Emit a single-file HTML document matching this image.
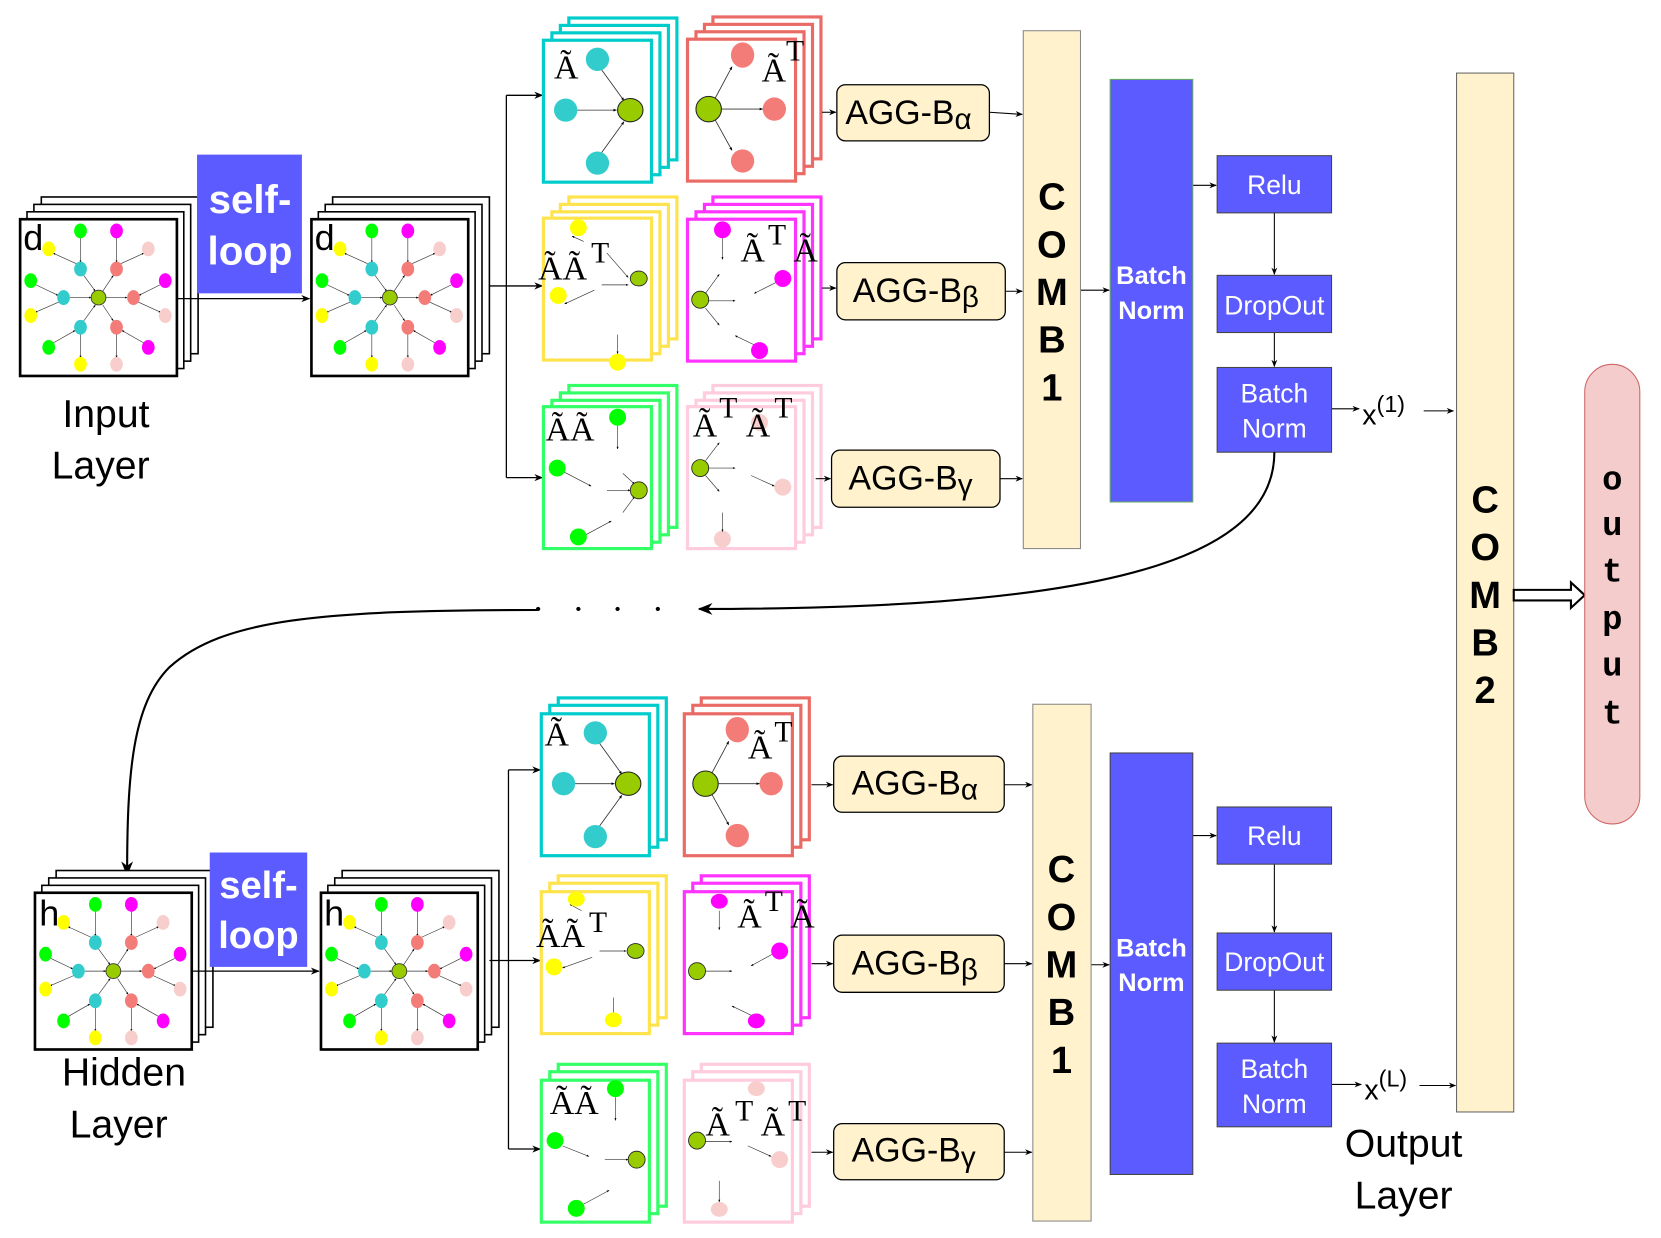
<!DOCTYPE html>
<html><head><meta charset="utf-8"><style>
html,body{margin:0;padding:0;background:#fff;}
svg{display:block;}
.s{font-family:"Liberation Sans",sans-serif;}
.sr{font-family:"Liberation Serif",serif;}
</style></head><body>
<svg width="1661" height="1238" viewBox="0 0 1568 1169" preserveAspectRatio="none" xmlns="http://www.w3.org/2000/svg">
<defs>
<marker id="ar" viewBox="0 0 10 10" refX="9" refY="5" markerWidth="7" markerHeight="7" orient="auto"><path d="M0,1 L10,5 L0,9 L3,5z" fill="#000"/></marker>
<marker id="as" viewBox="0 0 10 10" refX="9" refY="5" markerWidth="4" markerHeight="4" orient="auto"><path d="M0,1 L10,5 L0,9z" fill="#000"/></marker>
<g id="star">
<g stroke="#333" stroke-width="0.6" marker-end="url(#as)">
<line x1="57" y1="16" x2="57" y2="40"/><line x1="91" y1="16" x2="91" y2="40"/>
<line x1="53" y1="41" x2="31" y2="31"/><line x1="95" y1="41" x2="117" y2="31"/>
<line x1="15" y1="61" x2="36" y2="71"/><line x1="37" y1="77" x2="14" y2="87"/>
<line x1="132" y1="61" x2="112" y2="71"/><line x1="111" y1="77" x2="133" y2="87"/>
<line x1="31" y1="116" x2="52" y2="104"/><line x1="57" y1="107" x2="57" y2="130"/>
<line x1="117" y1="116" x2="96" y2="104"/><line x1="91" y1="107" x2="91" y2="130"/>
<line x1="60" y1="52" x2="71" y2="67"/><line x1="78" y1="67" x2="88" y2="52"/>
<line x1="47" y1="73" x2="67" y2="73"/><line x1="81" y1="73" x2="101" y2="73"/>
<line x1="60" y1="95" x2="71" y2="80"/><line x1="78" y1="80" x2="88" y2="95"/>
</g>
<ellipse cx="74" cy="73" rx="7" ry="7" fill="#99cc00" stroke="#333" stroke-width="0.8"/>
<g fill="#33cccc"><ellipse cx="57" cy="46" rx="6" ry="7"/><ellipse cx="41" cy="73" rx="6" ry="7"/><ellipse cx="57" cy="101" rx="6" ry="7"/></g>
<g fill="#f47c78"><ellipse cx="91" cy="46" rx="6" ry="7"/><ellipse cx="107" cy="73" rx="6" ry="7"/><ellipse cx="91" cy="101" rx="6" ry="7"/></g>
<g fill="#00ff00"><ellipse cx="57" cy="10" rx="6" ry="7"/><ellipse cx="10" cy="57" rx="6" ry="7"/><ellipse cx="27" cy="120" rx="6" ry="7"/></g>
<g fill="#ff00ff"><ellipse cx="91" cy="10" rx="6" ry="7"/><ellipse cx="137" cy="57" rx="6" ry="7"/><ellipse cx="121" cy="120" rx="6" ry="7"/></g>
<g fill="#ffff00"><ellipse cx="27" cy="27" rx="6" ry="7"/><ellipse cx="10" cy="90" rx="6" ry="7"/><ellipse cx="57" cy="136" rx="6" ry="7"/></g>
<g fill="#f8cecc"><ellipse cx="121" cy="27" rx="6" ry="7"/><ellipse cx="137" cy="90" rx="6" ry="7"/><ellipse cx="91" cy="136" rx="6" ry="7"/></g>
</g>
<g id="bigstack">
<rect x="20" y="-21" width="148" height="148" fill="#fff" stroke="#000" stroke-width="1.5"/>
<rect x="13" y="-14" width="148" height="148" fill="#fff" stroke="#000" stroke-width="1.5"/>
<rect x="6.5" y="-7" width="148" height="148" fill="#fff" stroke="#000" stroke-width="1.5"/>
<rect x="0" y="0" width="148" height="148" fill="#fff" stroke="#000" stroke-width="2.5"/>
<use href="#star" x="0" y="1"/>
</g>
</defs>

<use href="#bigstack" x="19" y="207"/>
<text x="22" y="236" class="s" font-size="34">d</text>
<rect x="186" y="146" width="99" height="131" fill="#5b5bff"/>
<text x="236" y="201" class="s" font-size="38" font-weight="bold" fill="#fff" text-anchor="middle">self-</text>
<text x="236" y="250" class="s" font-size="38" font-weight="bold" fill="#fff" text-anchor="middle">loop</text>
<line x1="168" y1="282" x2="292" y2="282" stroke="#000" stroke-width="1.2" marker-end="url(#ar)"/>
<use href="#bigstack" x="294" y="207"/>
<text x="297" y="236" class="s" font-size="34">d</text>
<text x="100" y="403" class="s" font-size="37" text-anchor="middle">Input</text>
<text x="95" y="452" class="s" font-size="37" text-anchor="middle">Layer</text>

<g stroke="#000" stroke-width="1.2" fill="none">
<line x1="462" y1="270" x2="478" y2="270"/>
<line x1="478" y1="90" x2="478" y2="451"/>
<line x1="478" y1="90" x2="512" y2="90" marker-end="url(#ar)"/>
<line x1="478" y1="270" x2="512" y2="270" marker-end="url(#ar)"/>
<line x1="478" y1="451" x2="512" y2="451" marker-end="url(#ar)"/>
</g>

<g stroke-width="3" fill="#fff">
<g stroke="#00cccc"><rect x="537" y="17" width="102" height="134"/><rect x="529" y="24" width="102" height="134"/><rect x="521" y="31" width="102" height="134"/><rect x="513" y="38" width="102" height="134"/></g>
<g stroke="#ea6b66"><rect x="673" y="16" width="102" height="134"/><rect x="665" y="23" width="102" height="134"/><rect x="657" y="30" width="102" height="134"/><rect x="649" y="37" width="102" height="134"/></g>
<g stroke="#ffe34d"><rect x="537" y="186" width="102" height="134"/><rect x="529" y="193" width="102" height="134"/><rect x="521" y="200" width="102" height="134"/><rect x="513" y="206" width="102" height="134"/></g>
<g stroke="#ff33ff"><rect x="673" y="186" width="102" height="134"/><rect x="665" y="193" width="102" height="134"/><rect x="657" y="200" width="102" height="134"/><rect x="649" y="207" width="102" height="134"/></g>
<g stroke="#33ff66"><rect x="537" y="364" width="102" height="134"/><rect x="529" y="371" width="102" height="134"/><rect x="521" y="378" width="102" height="134"/><rect x="513" y="384" width="102" height="134"/></g>
<g stroke="#ffccdd"><rect x="673" y="364" width="102" height="134"/><rect x="665" y="371" width="102" height="134"/><rect x="657" y="378" width="102" height="134"/><rect x="649" y="384" width="102" height="134"/></g>
</g>

<g transform="translate(513,38)">
<text x="10" y="36" class="sr" font-size="32">Ã</text>
<g stroke="#333" stroke-width="0.8" marker-end="url(#as)"><line x1="55" y1="28" x2="76" y2="57"/><line x1="31" y1="66" x2="69" y2="66"/><line x1="55" y1="106" x2="76" y2="77"/></g>
<g fill="#33cccc"><ellipse cx="51" cy="18" rx="11" ry="11"/><ellipse cx="21" cy="66" rx="11" ry="11"/><ellipse cx="51" cy="116" rx="11" ry="11"/></g>
<ellipse cx="82" cy="66" rx="12" ry="11" fill="#99cc00" stroke="#222"/>
</g>
<g transform="translate(649,37)">
<g stroke="#333" stroke-width="0.8" marker-end="url(#as)"><line x1="26" y1="56" x2="42" y2="26"/><line x1="32" y1="66" x2="71" y2="66"/><line x1="26" y1="76" x2="42" y2="105"/></g>
<ellipse cx="20" cy="66" rx="12" ry="12" fill="#99cc00" stroke="#222"/>
<g fill="#f47c78"><ellipse cx="52" cy="15" rx="11" ry="12"/><ellipse cx="82" cy="66" rx="11" ry="11"/><ellipse cx="52" cy="115" rx="11" ry="11"/></g>
<text x="70" y="40" class="sr" font-size="32">Ã</text><text x="93" y="20" class="sr" font-size="28">T</text>
</g>
<g transform="translate(513,206)">
<text x="-5" y="58" class="sr" font-size="32">ÃÃ</text><text x="45" y="42" class="sr" font-size="28">T</text>
<g stroke="#333" stroke-width="0.6" marker-end="url(#as)"><line x1="55" y1="63" x2="80" y2="63"/><line x1="48" y1="68" x2="20" y2="81"/><line x1="60" y1="33" x2="80" y2="56"/><line x1="70" y1="110" x2="70" y2="128"/><line x1="38" y1="22" x2="27" y2="17"/></g>
<g fill="#ffff00"><ellipse cx="33" cy="9" rx="8" ry="8"/><ellipse cx="14" cy="73" rx="8" ry="8"/><ellipse cx="70" cy="136" rx="8" ry="8"/></g>
<ellipse cx="90" cy="57" rx="8" ry="7" fill="#99cc00" stroke="#222" stroke-width="0.8"/>
</g>
<g transform="translate(649,207)">
<text x="50" y="40" class="sr" font-size="32">Ã</text><text x="76" y="24" class="sr" font-size="28">T</text><text x="100" y="40" class="sr" font-size="32">Ã</text>
<g stroke="#333" stroke-width="0.6" marker-end="url(#as)"><line x1="20" y1="77" x2="45" y2="77"/><line x1="17" y1="70" x2="30" y2="52"/><line x1="17" y1="84" x2="30" y2="100"/><line x1="33" y1="18" x2="33" y2="38"/><line x1="85" y1="59" x2="63" y2="70"/><line x1="68" y1="121" x2="45" y2="110"/></g>
<g fill="#ff00ff"><ellipse cx="33" cy="10" rx="8" ry="8"/><ellipse cx="90" cy="56" rx="8" ry="8"/><ellipse cx="68" cy="124" rx="8" ry="8"/></g>
<ellipse cx="12" cy="76" rx="8" ry="8" fill="#99cc00" stroke="#222" stroke-width="0.8"/>
</g>
<g transform="translate(513,384)">
<text x="2" y="32" class="sr" font-size="32">ÃÃ</text>
<g stroke="#333" stroke-width="0.6" marker-end="url(#as)"><line x1="70" y1="18" x2="70" y2="40"/><line x1="20" y1="62" x2="45" y2="75"/><line x1="60" y1="79" x2="82" y2="79"/><line x1="40" y1="121" x2="64" y2="108"/><line x1="75" y1="63" x2="86" y2="73"/><line x1="75" y1="100" x2="86" y2="85"/></g>
<g fill="#00ff00"><ellipse cx="70" cy="10" rx="8" ry="8"/><ellipse cx="13" cy="58" rx="8" ry="8"/><ellipse cx="33" cy="123" rx="8" ry="8"/></g>
<ellipse cx="90" cy="79" rx="8" ry="8" fill="#99cc00" stroke="#222" stroke-width="0.8"/>
</g>
<g transform="translate(649,384)">
<g fill="#f8cecc"><ellipse cx="68" cy="15" rx="8" ry="8"/><ellipse cx="90" cy="76" rx="8" ry="8"/><ellipse cx="33" cy="125" rx="8" ry="8"/></g>
<text x="5" y="28" class="sr" font-size="32">Ã</text><text x="30" y="10" class="sr" font-size="28">T</text><text x="55" y="28" class="sr" font-size="32">Ã</text><text x="82" y="10" class="sr" font-size="28">T</text>
<g stroke="#333" stroke-width="0.6" marker-end="url(#as)"><line x1="20" y1="58" x2="45" y2="58"/><line x1="17" y1="51" x2="30" y2="34"/><line x1="17" y1="65" x2="30" y2="80"/><line x1="60" y1="65" x2="82" y2="75"/><line x1="33" y1="100" x2="33" y2="118"/></g>
<ellipse cx="12" cy="58" rx="8" ry="8" fill="#99cc00" stroke="#222" stroke-width="0.8"/>
</g>

<g stroke="#000" stroke-width="1" marker-end="url(#ar)">
<line x1="776" y1="106" x2="789" y2="106"/><line x1="776" y1="272" x2="789" y2="272"/><line x1="770" y1="452" x2="784" y2="452"/>
<line x1="934" y1="106" x2="965" y2="108"/><line x1="949" y1="275" x2="965" y2="275"/><line x1="944" y1="452" x2="965" y2="452"/>
<line x1="1020" y1="274" x2="1047" y2="274"/><line x1="1126" y1="175" x2="1148" y2="175"/>
<line x1="1203" y1="201" x2="1203" y2="259"/><line x1="1203" y1="314" x2="1203" y2="346"/>
<line x1="1257" y1="386" x2="1283" y2="386"/><line x1="1344" y1="388" x2="1372" y2="388"/>
</g>
<g stroke="#000" stroke-width="1.2" fill="#fff2cc">
<rect x="790" y="80" width="144" height="53" rx="8"/>
<rect x="790" y="248" width="159" height="54" rx="8"/>
<rect x="785" y="425" width="159" height="54" rx="8"/>
</g>
<g class="s" font-size="32">
<text x="798" y="117">AGG-B<tspan font-size="28" dy="5">α</tspan></text>
<text x="805" y="285">AGG-B<tspan font-size="28" dy="5">β</tspan></text>
<text x="801" y="462">AGG-B<tspan font-size="28" dy="5">γ</tspan></text>
</g>
<rect x="966" y="29" width="54" height="489" fill="#fff2cc" stroke="#888"/>
<g class="s" font-size="36" font-weight="bold" text-anchor="middle">
<text x="993" y="198">C</text><text x="993" y="243">O</text><text x="993" y="288">M</text><text x="993" y="333">B</text><text x="993" y="378">1</text>
</g>
<rect x="1048" y="75" width="78" height="399" fill="#5b5bff" stroke="#6a6"/>
<text x="1087" y="268" class="s" font-size="24" font-weight="bold" fill="#fff" text-anchor="middle">Batch</text>
<text x="1087" y="301" class="s" font-size="24" font-weight="bold" fill="#fff" text-anchor="middle">Norm</text>
<g fill="#5b5bff" stroke="#444">
<rect x="1149" y="147" width="108" height="54"/><rect x="1149" y="260" width="108" height="54"/><rect x="1149" y="347" width="108" height="80"/>
</g>
<g class="s" font-size="25" fill="#fff" text-anchor="middle">
<text x="1203" y="183">Relu</text><text x="1203" y="297">DropOut</text><text x="1203" y="380">Batch</text><text x="1203" y="413">Norm</text>
</g>
<text x="1286" y="401" class="s" font-size="27">x<tspan font-size="22" dy="-12">(1)</tspan></text>

<rect x="1375" y="69" width="54" height="981" fill="#fff2cc" stroke="#666"/>
<g class="s" font-size="36" font-weight="bold" text-anchor="middle">
<text x="1402" y="484">C</text><text x="1402" y="529">O</text><text x="1402" y="574">M</text><text x="1402" y="619">B</text><text x="1402" y="664">2</text>
</g>
<path d="M1429,557 L1483,557 L1483,550 L1496,562 L1483,574 L1483,567 L1429,567z" fill="#fff" stroke="#000" stroke-width="2"/>
<rect x="1496" y="344" width="52" height="434" rx="26" fill="#f4cccc" stroke="#d06666"/>
<g font-family="'Liberation Mono',monospace" font-size="32" font-weight="bold" text-anchor="middle">
<text x="1522" y="462">o</text><text x="1522" y="505">u</text><text x="1522" y="549">t</text><text x="1522" y="594">p</text><text x="1522" y="638">u</text><text x="1522" y="683">t</text>
</g>

<path d="M1203,427 C1203,540 1000,575 660,575" fill="none" stroke="#000" stroke-width="2" marker-end="url(#ar)"/>
<g fill="#000"><circle cx="508" cy="575" r="2"/><circle cx="546" cy="575" r="2"/><circle cx="583" cy="575" r="2"/><circle cx="621" cy="575" r="2"/></g>
<path d="M507,576 C300,576 210,585 160,630 C125,665 120,730 120,826" fill="none" stroke="#000" stroke-width="2" marker-end="url(#ar)"/>

<use href="#bigstack" x="33" y="843"/>
<text x="37" y="874" class="s" font-size="34">h</text>
<rect x="198" y="805" width="92" height="108" fill="#5b5bff"/>
<text x="244" y="848" class="s" font-size="36" font-weight="bold" fill="#fff" text-anchor="middle">self-</text>
<text x="244" y="895" class="s" font-size="36" font-weight="bold" fill="#fff" text-anchor="middle">loop</text>
<line x1="181" y1="917" x2="301" y2="917" stroke="#000" stroke-width="1.2" marker-end="url(#ar)"/>
<use href="#bigstack" x="303" y="843"/>
<text x="306" y="874" class="s" font-size="34">h</text>
<text x="117" y="1025" class="s" font-size="37" text-anchor="middle">Hidden</text>
<text x="112" y="1074" class="s" font-size="37" text-anchor="middle">Layer</text>

<g stroke="#000" stroke-width="1.2" fill="none">
<line x1="462" y1="907" x2="480" y2="907"/>
<line x1="480" y1="727" x2="480" y2="1085"/>
<line x1="480" y1="727" x2="510" y2="727" marker-end="url(#ar)"/>
<line x1="480" y1="907" x2="510" y2="907" marker-end="url(#ar)"/>
<line x1="480" y1="1085" x2="510" y2="1085" marker-end="url(#ar)"/>
</g>
<g stroke-width="3" fill="#fff">
<g stroke="#00cccc"><rect x="527" y="659" width="102" height="134"/><rect x="519" y="666" width="102" height="134"/><rect x="511" y="674" width="102" height="134"/></g>
<g stroke="#ea6b66"><rect x="662" y="659" width="102" height="134"/><rect x="654" y="666" width="102" height="134"/><rect x="646" y="674" width="102" height="134"/></g>
<g stroke="#ffe34d"><rect x="527" y="827" width="102" height="134"/><rect x="519" y="834" width="102" height="134"/><rect x="511" y="842" width="102" height="134"/></g>
<g stroke="#ff33ff"><rect x="662" y="827" width="102" height="134"/><rect x="654" y="834" width="102" height="134"/><rect x="646" y="842" width="102" height="134"/></g>
<g stroke="#33ff66"><rect x="527" y="1005" width="102" height="134"/><rect x="519" y="1012" width="102" height="134"/><rect x="511" y="1020" width="102" height="134"/></g>
<g stroke="#ffccdd"><rect x="662" y="1005" width="102" height="134"/><rect x="654" y="1012" width="102" height="134"/><rect x="646" y="1020" width="102" height="134"/></g>
</g>
<g transform="translate(511,674)">
<text x="3" y="30" class="sr" font-size="32">Ã</text>
<g stroke="#333" stroke-width="0.8" marker-end="url(#as)"><line x1="55" y1="28" x2="76" y2="57"/><line x1="31" y1="66" x2="69" y2="66"/><line x1="55" y1="106" x2="76" y2="77"/></g>
<g fill="#33cccc"><ellipse cx="51" cy="18" rx="11" ry="11"/><ellipse cx="21" cy="66" rx="11" ry="11"/><ellipse cx="51" cy="116" rx="11" ry="11"/></g>
<ellipse cx="82" cy="66" rx="12" ry="11" fill="#99cc00" stroke="#222"/>
</g>
<g transform="translate(646,674)">
<g stroke="#333" stroke-width="0.8" marker-end="url(#as)"><line x1="26" y1="56" x2="42" y2="26"/><line x1="32" y1="66" x2="71" y2="66"/><line x1="26" y1="76" x2="42" y2="105"/></g>
<ellipse cx="20" cy="66" rx="12" ry="12" fill="#99cc00" stroke="#222"/>
<g fill="#f47c78"><ellipse cx="50" cy="15" rx="11" ry="12"/><ellipse cx="82" cy="66" rx="11" ry="11"/><ellipse cx="50" cy="115" rx="11" ry="11"/></g>
<text x="60" y="42" class="sr" font-size="32">Ã</text><text x="85" y="26" class="sr" font-size="28">T</text>
</g>
<g transform="translate(511,842)">
<text x="-5" y="52" class="sr" font-size="32">ÃÃ</text><text x="45" y="38" class="sr" font-size="28">T</text>
<g stroke="#333" stroke-width="0.6" marker-end="url(#as)"><line x1="55" y1="56" x2="80" y2="56"/><line x1="48" y1="62" x2="20" y2="72"/><line x1="68" y1="100" x2="68" y2="118"/><line x1="38" y1="18" x2="27" y2="12"/></g>
<g fill="#ffff00"><ellipse cx="33" cy="7" rx="8" ry="7"/><ellipse cx="12" cy="71" rx="8" ry="8"/><ellipse cx="68" cy="121" rx="8" ry="7"/></g>
<ellipse cx="89" cy="56" rx="8" ry="7" fill="#99cc00" stroke="#222" stroke-width="0.8"/>
</g>
<g transform="translate(646,842)">
<text x="50" y="34" class="sr" font-size="32">Ã</text><text x="76" y="18" class="sr" font-size="28">T</text><text x="100" y="34" class="sr" font-size="32">Ã</text>
<g stroke="#333" stroke-width="0.6" marker-end="url(#as)"><line x1="20" y1="75" x2="45" y2="75"/><line x1="33" y1="18" x2="33" y2="36"/><line x1="85" y1="58" x2="63" y2="70"/><line x1="68" y1="119" x2="45" y2="108"/></g>
<g fill="#ff00ff"><ellipse cx="33" cy="9" rx="8" ry="7"/><ellipse cx="90" cy="56" rx="8" ry="8"/><ellipse cx="68" cy="122" rx="8" ry="7"/></g>
<ellipse cx="12" cy="75" rx="8" ry="8" fill="#99cc00" stroke="#222" stroke-width="0.8"/>
</g>
<g transform="translate(511,1020)">
<text x="8" y="32" class="sr" font-size="32">ÃÃ</text>
<g stroke="#333" stroke-width="0.6" marker-end="url(#as)"><line x1="70" y1="16" x2="70" y2="38"/><line x1="20" y1="62" x2="45" y2="72"/><line x1="60" y1="75" x2="82" y2="75"/><line x1="40" y1="117" x2="64" y2="104"/></g>
<g fill="#00ff00"><ellipse cx="70" cy="8" rx="8" ry="8"/><ellipse cx="13" cy="57" rx="8" ry="8"/><ellipse cx="33" cy="121" rx="8" ry="8"/></g>
<ellipse cx="90" cy="75" rx="8" ry="8" fill="#99cc00" stroke="#222" stroke-width="0.8"/>
</g>
<g transform="translate(646,1020)">
<g fill="#f8cecc"><ellipse cx="68" cy="8" rx="8" ry="7"/><ellipse cx="90" cy="75" rx="8" ry="8"/><ellipse cx="33" cy="122" rx="8" ry="7"/></g>
<text x="20" y="52" class="sr" font-size="32">Ã</text><text x="48" y="38" class="sr" font-size="28">T</text><text x="72" y="52" class="sr" font-size="32">Ã</text><text x="98" y="38" class="sr" font-size="28">T</text>
<g stroke="#333" stroke-width="0.6" marker-end="url(#as)"><line x1="20" y1="58" x2="45" y2="58"/><line x1="60" y1="62" x2="82" y2="72"/><line x1="33" y1="95" x2="33" y2="115"/></g>
<ellipse cx="12" cy="57" rx="8" ry="8" fill="#99cc00" stroke="#222" stroke-width="0.8"/>
</g>

<g stroke="#000" stroke-width="1" marker-end="url(#ar)">
<line x1="766" y1="741" x2="786" y2="741"/><line x1="766" y1="910" x2="786" y2="910"/><line x1="766" y1="1088" x2="786" y2="1088"/>
<line x1="948" y1="741" x2="974" y2="741"/><line x1="948" y1="910" x2="974" y2="910"/><line x1="948" y1="1088" x2="974" y2="1088"/>
<line x1="1030" y1="911" x2="1047" y2="911"/><line x1="1126" y1="789" x2="1148" y2="789"/>
<line x1="1203" y1="816" x2="1203" y2="880"/><line x1="1203" y1="935" x2="1203" y2="984"/>
<line x1="1257" y1="1024" x2="1285" y2="1024"/><line x1="1340" y1="1025" x2="1374" y2="1025"/>
</g>
<g stroke="#000" stroke-width="1.2" fill="#fff2cc">
<rect x="787" y="714" width="161" height="53" rx="8"/>
<rect x="787" y="883" width="161" height="54" rx="8"/>
<rect x="787" y="1061" width="161" height="53" rx="8"/>
</g>
<g class="s" font-size="32">
<text x="804" y="750">AGG-B<tspan font-size="28" dy="5">α</tspan></text>
<text x="804" y="920">AGG-B<tspan font-size="28" dy="5">β</tspan></text>
<text x="804" y="1097">AGG-B<tspan font-size="28" dy="5">γ</tspan></text>
</g>
<rect x="975" y="665" width="55" height="488" fill="#fff2cc" stroke="#888"/>
<g class="s" font-size="36" font-weight="bold" text-anchor="middle">
<text x="1002" y="833">C</text><text x="1002" y="878">O</text><text x="1002" y="923">M</text><text x="1002" y="968">B</text><text x="1002" y="1013">1</text>
</g>
<rect x="1048" y="711" width="78" height="398" fill="#5b5bff" stroke="#444"/>
<text x="1087" y="903" class="s" font-size="24" font-weight="bold" fill="#fff" text-anchor="middle">Batch</text>
<text x="1087" y="936" class="s" font-size="24" font-weight="bold" fill="#fff" text-anchor="middle">Norm</text>
<g fill="#5b5bff" stroke="#444">
<rect x="1149" y="762" width="108" height="54"/><rect x="1149" y="881" width="108" height="54"/><rect x="1149" y="985" width="108" height="79"/>
</g>
<g class="s" font-size="25" fill="#fff" text-anchor="middle">
<text x="1203" y="798">Relu</text><text x="1203" y="917">DropOut</text><text x="1203" y="1018">Batch</text><text x="1203" y="1051">Norm</text>
</g>
<text x="1288" y="1038" class="s" font-size="27">x<tspan font-size="22" dy="-12">(L)</tspan></text>
<text x="1325" y="1092" class="s" font-size="37" text-anchor="middle">Output</text>
<text x="1325" y="1141" class="s" font-size="37" text-anchor="middle">Layer</text>
</svg>
</body></html>
